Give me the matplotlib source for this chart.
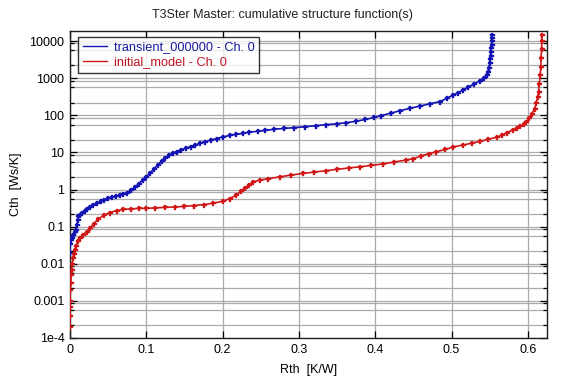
import matplotlib
matplotlib.use("Agg")
import matplotlib.pyplot as plt
from matplotlib.ticker import FixedLocator, FixedFormatter, NullFormatter

plt.rcParams['font.family'] = ['Liberation Sans', 'DejaVu Sans']

title = "T3Ster Master: cumulative structure function(s)"
xlabel = "Rth  [K/W]"
ylabel = "Cth  [Ws/K]"
series_names = ["transient_000000 - Ch. 0", "initial_model - Ch. 0"]

x_ticks = [0, 0.1, 0.2, 0.3, 0.4, 0.5, 0.6]
x_tick_labels = ["0", "0.1", "0.2", "0.3", "0.4", "0.5", "0.6"]
y_ticks = [1e-4, 1e-3, 1e-2, 1e-1, 1, 10, 100, 1000, 10000]
y_tick_labels = ["1e-4", "0.001", "0.01", "0.1", "1", "10", "100", "1000", "10000"]

rth_blue = [0.000, 0.000, 0.001, 0.002, 0.004, 0.006, 0.008, 0.009, 0.010, 0.011,
            0.013, 0.016, 0.019, 0.022, 0.026, 0.030, 0.035, 0.040, 0.045, 0.050,
            0.055, 0.060, 0.065, 0.070, 0.075, 0.080, 0.085, 0.090, 0.095, 0.100,
            0.105, 0.110, 0.115, 0.120, 0.125, 0.130, 0.135, 0.140, 0.146, 0.152,
            0.158, 0.164, 0.170, 0.177, 0.185, 0.192, 0.200, 0.209, 0.218, 0.227,
            0.235, 0.246, 0.256, 0.267, 0.280, 0.294, 0.308, 0.322, 0.336, 0.350,
            0.362, 0.375, 0.387, 0.398, 0.408, 0.420, 0.432, 0.446, 0.459, 0.472,
            0.485, 0.494, 0.502, 0.509, 0.515, 0.522, 0.530, 0.537, 0.542, 0.546,
            0.548, 0.549, 0.550, 0.5505, 0.551, 0.5515, 0.552, 0.5525, 0.553, 0.553,
            0.553]
cth_blue = [0.02, 0.035, 0.045, 0.05, 0.06, 0.07, 0.08, 0.11, 0.15, 0.19,
            0.21, 0.24, 0.27, 0.30, 0.34, 0.38, 0.43, 0.48, 0.53, 0.58,
            0.62, 0.66, 0.70, 0.76, 0.83, 0.96, 1.15, 1.45, 1.8, 2.2,
            2.8, 3.6, 4.6, 5.8, 7.2, 8.5, 9.5, 10.5, 11.8, 13.0,
            14.3, 15.8, 17.5, 19.5, 21.5, 23.5, 26, 28.5, 30.5, 32.5,
            35, 37, 39, 42, 44, 46.5, 49, 52.5, 56, 59,
            63, 69, 77, 87, 98, 113, 132, 155, 177, 205,
            233, 290, 350, 410, 480, 580, 700, 850, 990, 1250,
            1500, 1900, 2500, 3200, 4000, 5000, 6500, 8000, 10000, 12000,
            14500]

rth_red = [0.000, 0.000, 0.000, 0.000, 0.0005, 0.001, 0.0015, 0.002, 0.003, 0.004,
           0.005, 0.0066, 0.008, 0.010, 0.013, 0.017, 0.022, 0.026, 0.031, 0.037,
           0.044, 0.052, 0.061, 0.070, 0.080, 0.090, 0.100, 0.112, 0.125, 0.138,
           0.150, 0.162, 0.175, 0.188, 0.200, 0.209, 0.218, 0.224, 0.229, 0.235,
           0.240, 0.249, 0.260, 0.275, 0.290, 0.305, 0.320, 0.335, 0.350, 0.365,
           0.380, 0.395, 0.410, 0.425, 0.440, 0.450, 0.460, 0.470, 0.480, 0.492,
           0.502, 0.515, 0.527, 0.537, 0.548, 0.559, 0.566, 0.572, 0.580, 0.586,
           0.590, 0.595, 0.598, 0.602, 0.605, 0.609, 0.611, 0.613, 0.614, 0.615,
           0.616, 0.617, 0.617, 0.618, 0.618, 0.618]
cth_red = [0.0002, 0.0004, 0.0007, 0.001, 0.002, 0.003, 0.005, 0.007, 0.01, 0.014,
           0.018, 0.023, 0.03, 0.04, 0.049, 0.06, 0.073, 0.09, 0.12, 0.16,
           0.20, 0.24, 0.27, 0.29, 0.30, 0.31, 0.31, 0.32, 0.33, 0.34,
           0.35, 0.37, 0.39, 0.43, 0.48, 0.56, 0.71, 0.9, 1.1, 1.35,
           1.6, 1.8, 1.95, 2.2, 2.45, 2.7, 2.95, 3.2, 3.5, 3.8,
           4.1, 4.45, 4.9, 5.5, 6.2, 6.8, 8.0, 9.2, 10.4, 12.0,
           14.0, 15.8, 17.8, 19.7, 22.5, 25.5, 29, 34, 40, 45,
           50, 58, 67, 85, 110, 150, 220, 320, 430, 700,
           1200, 2000, 3400, 6000, 10000, 14500]

blue = "#1414b4"
red = "#d01818"

fig = plt.figure(figsize=(5.65, 3.81), dpi=100)
ax = fig.add_axes([70/565, 1-338/381, (547-70)/565, (338-31)/381])

ax.set_yscale("log")
ax.set_xlim(0, 0.625)
ax.set_ylim(1e-4, 18600)

ax.plot(rth_blue, cth_blue, color=blue, lw=1.2, marker="P", ms=3.6, mec=blue,
        mew=0.2, label=series_names[0], zorder=3)
ax.plot(rth_red, cth_red, color=red, lw=1.2, marker="P", ms=3.6, mec=red,
        mew=0.2, label=series_names[1], zorder=3)

ax.xaxis.set_major_locator(FixedLocator(x_ticks))
ax.xaxis.set_major_formatter(FixedFormatter(x_tick_labels))
ax.yaxis.set_major_locator(FixedLocator(y_ticks))
ax.yaxis.set_major_formatter(FixedFormatter(y_tick_labels))
minor = []
for d in y_ticks:
    for m in (2.2, 5.6, 8.6):
        v = d * m
        if v < 18600:
            minor.append(v)
ax.yaxis.set_minor_locator(FixedLocator(minor))
ax.yaxis.set_minor_formatter(NullFormatter())
ax.xaxis.set_minor_locator(FixedLocator([]))

ax.grid(True, which="major", color="#ababab", lw=0.9)
ax.grid(True, which="minor", axis="y", color="#ababab", lw=0.9)
ax.set_axisbelow(True)

ax.tick_params(which="major", direction="in", length=5, width=0.9, top=True, right=True,
               labelsize=9, colors="black", pad=4)
ax.tick_params(which="minor", direction="in", length=3, width=0.9, right=True, left=True)
for s in ax.spines.values():
    s.set_linewidth(1.0)
    s.set_color("#202020")

fig.text(0.5, 1 - 15/381, title, fontsize=9, ha="center", va="center", color="#202020")
ax.set_xlabel(xlabel, fontsize=9, labelpad=6)
ax.set_ylabel(ylabel, fontsize=9, labelpad=5)

leg = ax.legend(loc="upper left", bbox_to_anchor=(0.015, 0.985), fontsize=9.2,
                frameon=True, fancybox=False, borderpad=0.35, handlelength=1.9,
                handletextpad=0.5, labelspacing=0.25, borderaxespad=0.1)
leg.get_frame().set_edgecolor("black")
leg.get_frame().set_linewidth(1.0)
for line in leg.get_lines():
    line.set_marker("")
    line.set_linewidth(1.0)
for txt, c in zip(leg.get_texts(), ["#1a1a9c", "#c01420"]):
    txt.set_color(c)

fig.savefig("out.png", dpi=100)
